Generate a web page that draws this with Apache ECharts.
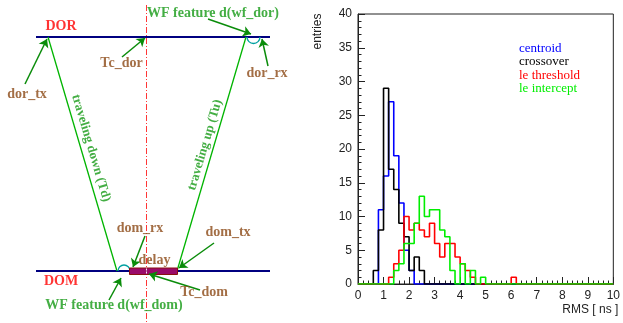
<!DOCTYPE html>
<html>
<head>
<meta charset="utf-8">
<script src="https://cdn.jsdelivr.net/npm/echarts@6/dist/echarts.min.js"></script>
<style>
  html, body { margin: 0; padding: 0; background: #fff; }
  #main { width: 623px; height: 323px; }
</style>
</head>
<body>
<div id="main"></div>
<script>
// histogram: RMS [ns], 50 bins of 0.2 ns from 0 to 10
const binWidth = 0.2;
const centroid = [
  0, 0, 0, 0, 11, 16, 27, 19, 12, 5,
  2, 0, 0, 0, 0, 0, 0, 0, 0, 0,
  0, 0, 0, 0, 0, 0, 0, 0, 0, 0,
  0, 0, 0, 0, 0, 0, 0, 0, 0, 0,
  0, 0, 0, 0, 0, 0, 0, 0, 0, 0
];
const crossover = [
  0, 0, 0, 2, 8, 29, 17, 14, 9, 7,
  2, 4, 2, 0, 0, 0, 0, 0, 0, 0,
  0, 0, 0, 0, 0, 0, 0, 0, 0, 0,
  0, 0, 0, 0, 0, 0, 0, 0, 0, 0,
  0, 0, 0, 0, 0, 0, 0, 0, 0, 0
];
const leThreshold = [
  0, 0, 0, 0, 0, 0, 1, 3, 5, 10,
  8, 9, 8, 7, 9, 6, 4, 6, 6, 4,
  3, 2, 1, 0, 0, 0, 0, 0, 0, 0,
  1, 0, 0, 0, 0, 0, 0, 0, 0, 0,
  0, 0, 0, 0, 0, 0, 0, 0, 0, 0
];
const leIntercept = [
  0, 0, 0, 0, 0, 0, 0, 2, 3, 6,
  6, 9, 13, 10, 11, 11, 8, 7, 2, 0,
  3, 0, 2, 0, 1, 0, 0, 0, 0, 0,
  0, 0, 0, 0, 0, 0, 0, 0, 0, 0,
  0, 0, 0, 0, 0, 0, 0, 0, 0, 0
];
const seriesNames = ['centroid', 'crossover', 'le threshold', 'le intercept'];
const seriesColors = ['#0000ff', '#000000', '#ff0000', '#00ee00'];

// timing diagram, drawn in its own 310 x 323 unit frame
const levelLines = [ // DOR and DOM
  [[36, 37], [270, 37]],
  [[36, 271], [270, 271]]
];
const travelLines = [ // down (Td), up (Tu)
  [[48, 37], [117, 271]],
  [[177, 271], [246, 37]]
];
const centerLine = [[146, 5], [146, 322]];
const boxMark = [[146, 268.5], [146, 274]];
const arrowLines = [
  [[25, 84], [47, 39]],     // dor_tx
  [[122, 57], [145, 38]],   // Tc_dor
  [[208, 19], [251, 34]],   // WF feature d(wf_dor)
  [[268, 66], [262, 39]],   // dor_rx
  [[145, 236], [133, 267]], // dom_rx
  [[214, 243], [179, 268]], // dom_tx
  [[200, 290], [149, 274]], // Tc_dom
  [[109, 300], [121, 278]]  // WF feature d(wf_dom)
];
const arcs = [ // cx, cy, r, side (1 below line, -1 above)
  [253.5, 37, 6.5, 1],
  [124, 271, 6, -1]
];
const delayBox = [[129.5, 268, 177.5, 274.5]];
const levelLabels = [
  { name: 'DOR', value: [61, 26.5] },
  { name: 'DOM', value: [61, 281] }
];
const featureLabels = [
  { name: 'WF feature d(wf_dor)', value: [213, 13] },
  { name: 'WF feature d(wf_dom)', value: [114, 305.5] }
];
const timeLabels = [
  { name: 'dor_tx', value: [27, 94] },
  { name: 'Tc_dor', value: [121.5, 63] },
  { name: 'dor_rx', value: [267, 73] },
  { name: 'dom_rx', value: [140, 228.5] },
  { name: 'delay', value: [154.5, 260] },
  { name: 'dom_tx', value: [228, 232] },
  { name: 'Tc_dom', value: [204, 292.5] }
];
const travelLabels = [
  { name: 'traveling down (Td)', value: [91, 148], rotate: -73.5 },
  { name: 'traveling up (Tu)', value: [205, 145], rotate: 73.4 }
];

const serif = 'Liberation Serif';
const sans = 'Liberation Sans';

function histData(arr) {
  const d = arr.map((v, i) => [i * binWidth, v]);
  d.push([arr.length * binWidth, arr[arr.length - 1]]);
  return d;
}

function textSeries(items, color, extra) {
  return {
    type: 'scatter',
    xAxisIndex: 0,
    yAxisIndex: 0,
    symbolSize: 0,
    silent: true,
    z: 10,
    data: items.map(it => ({
      name: it.name,
      value: it.value,
      label: it.rotate ? { rotate: it.rotate } : undefined
    })),
    label: Object.assign({
      show: true,
      position: 'inside',
      formatter: '{b}',
      color: color,
      fontFamily: serif,
      fontWeight: 'bold',
      fontSize: 14
    }, extra || {})
  };
}

const chart = echarts.init(document.getElementById('main'), null, { renderer: 'canvas' });

const histSeries = [centroid, crossover, leThreshold, leIntercept].map((arr, k) => ({
  name: seriesNames[k],
  type: 'line',
  xAxisIndex: 1,
  yAxisIndex: 1,
  step: 'end',
  symbol: 'none',
  z: 3 + k,
  lineStyle: { color: seriesColors[k], width: 1.6 },
  itemStyle: { color: seriesColors[k] },
  data: histData(arr)
}));

chart.setOption({
  animation: false,
  backgroundColor: '#fff',
  grid: [
    { left: 0, top: 0, width: 310, height: 323 },
    { left: 358, top: 14, width: 260, height: 270, show: true, borderColor: '#222', borderWidth: 1 }
  ],
  xAxis: [
    { gridIndex: 0, type: 'value', min: 0, max: 310, show: false },
    {
      gridIndex: 1, type: 'value', min: 0, max: 10, interval: 1,
      name: 'RMS [ ns ]', nameLocation: 'end', nameGap: 5,
      nameTextStyle: { fontFamily: sans, fontSize: 12, color: '#222', align: 'right', verticalAlign: 'top', padding: [20, 0, 0, 0] },
      axisLine: { lineStyle: { color: '#222', width: 1 } },
      axisTick: { inside: true, length: 7, lineStyle: { color: '#222' } },
      minorTick: { show: true, splitNumber: 5, length: 3.5, lineStyle: { color: '#222' } },
      axisLabel: { fontFamily: sans, fontSize: 12, color: '#222', margin: 6 },
      splitLine: { show: false }
    }
  ],
  yAxis: [
    { gridIndex: 0, type: 'value', min: 0, max: 323, inverse: true, show: false },
    {
      gridIndex: 1, type: 'value', min: 0, max: 40, interval: 5,
      axisLine: { show: true, lineStyle: { color: '#222', width: 1 } },
      axisTick: { show: true, inside: true, length: 7, lineStyle: { color: '#222' } },
      minorTick: { show: true, splitNumber: 5, length: 3.5, lineStyle: { color: '#222' } },
      axisLabel: { fontFamily: sans, fontSize: 12, color: '#222', margin: 6 },
      splitLine: { show: false }
    }
  ],
  legend: {
    orient: 'vertical',
    left: 509,
    top: 37,
    icon: 'none',
    itemWidth: 0,
    itemHeight: 13,
    itemGap: 0.3,
    selectedMode: false,
    textStyle: { fontFamily: serif, fontSize: 13, lineHeight: 13 },
    data: seriesNames.map((n, k) => ({ name: n, textStyle: { color: seriesColors[k] } }))
  },
  graphic: [{
    type: 'text',
    x: 318, y: 31.5,
    rotation: Math.PI / 2,
    style: { text: 'entries', fontFamily: sans, fontSize: 12, fill: '#222', align: 'center', verticalAlign: 'middle' }
  }],
  series: histSeries.concat([
    {
      type: 'lines', coordinateSystem: 'cartesian2d', xAxisIndex: 0, yAxisIndex: 0, silent: true, z: 2,
      lineStyle: { color: '#ff2020', width: 1, type: [6, 2, 1, 2], opacity: 0.9 },
      data: [{ coords: centerLine }]
    },
    {
      type: 'lines', coordinateSystem: 'cartesian2d', xAxisIndex: 0, yAxisIndex: 0, silent: true, z: 3,
      lineStyle: { color: '#000080', width: 2, opacity: 1 },
      data: levelLines.map(c => ({ coords: c }))
    },
    {
      type: 'lines', coordinateSystem: 'cartesian2d', xAxisIndex: 0, yAxisIndex: 0, silent: true, z: 3,
      lineStyle: { color: '#00b400', width: 1.3, opacity: 1 },
      data: travelLines.map(c => ({ coords: c }))
    },
    {
      type: 'custom', coordinateSystem: 'cartesian2d', xAxisIndex: 0, yAxisIndex: 0, silent: true, z: 4,
      data: arcs,
      renderItem: function (params, api) {
        const c = api.coord([api.value(0), api.value(1)]);
        const r = api.size([api.value(2), 0])[0];
        const below = api.value(3) > 0;
        return {
          type: 'arc',
          shape: { cx: c[0], cy: c[1], r: r, startAngle: below ? 0 : Math.PI, endAngle: below ? Math.PI : 2 * Math.PI },
          style: { stroke: '#00a0a0', fill: null, lineWidth: 1.3 }
        };
      }
    },
    {
      type: 'custom', coordinateSystem: 'cartesian2d', xAxisIndex: 0, yAxisIndex: 0, silent: true, z: 4,
      data: delayBox,
      renderItem: function (params, api) {
        const p0 = api.coord([api.value(0), api.value(1)]);
        const p1 = api.coord([api.value(2), api.value(3)]);
        return {
          type: 'rect',
          shape: { x: p0[0], y: p0[1], width: p1[0] - p0[0], height: p1[1] - p0[1] },
          style: { fill: '#9a0a6a', stroke: '#8a1010', lineWidth: 1 }
        };
      }
    },
    {
      type: 'lines', coordinateSystem: 'cartesian2d', xAxisIndex: 0, yAxisIndex: 0, silent: true, z: 5,
      lineStyle: { color: '#ffffff', width: 1, type: [2, 1], opacity: 0.9 },
      data: [{ coords: boxMark }]
    },
    {
      type: 'lines', coordinateSystem: 'cartesian2d', xAxisIndex: 0, yAxisIndex: 0, silent: true, z: 5,
      symbol: ['none', 'arrow'],
      symbolSize: 8,
      lineStyle: { color: '#0a8c0a', width: 1.5, opacity: 1 },
      data: arrowLines.map(c => ({ coords: c }))
    },
    textSeries(levelLabels, '#ff0000'),
    textSeries(featureLabels, '#159a15'),
    textSeries(timeLabels, '#8c4a16'),
    textSeries(travelLabels, '#159a15', { fontSize: 13 })
  ])
});
</script>
</body>
</html>
